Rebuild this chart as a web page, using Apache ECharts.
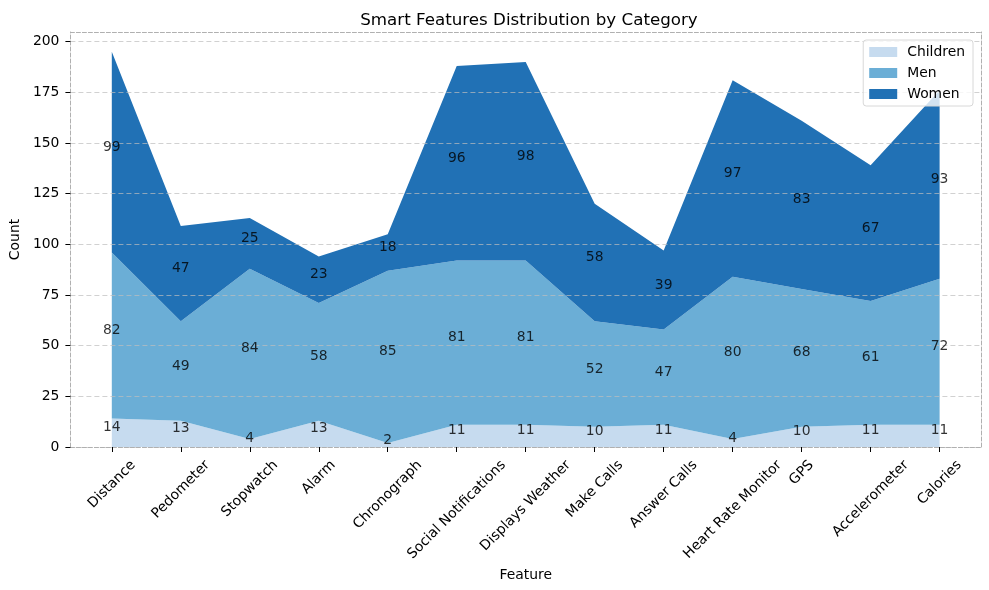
<!DOCTYPE html>
<html>
<head>
<meta charset="utf-8">
<script src="https://cdn.jsdelivr.net/npm/echarts@6/dist/echarts.min.js"></script>
<style>
html, body { margin: 0; padding: 0; background: #fff; }
#view { width: 989px; height: 590px; }
</style>
</head>
<body>
<div id="view"></div>
<script>
var features = ['Distance', 'Pedometer', 'Stopwatch', 'Alarm', 'Chronograph', 'Social Notifications',
    'Displays Weather', 'Make Calls', 'Answer Calls', 'Heart Rate Monitor', 'GPS', 'Accelerometer', 'Calories'];
var children = [14, 13, 4, 13, 2, 11, 11, 10, 11, 4, 10, 11, 11];
var men = [82, 49, 84, 58, 85, 81, 81, 52, 47, 80, 68, 61, 72];
var women = [99, 47, 25, 23, 18, 96, 98, 58, 39, 97, 83, 67, 93];
var yTicks = [0, 25, 50, 75, 100, 125, 150, 175, 200];
var groups = ['Children', 'Men', 'Women'];
var colors = ['#c6dbef', '#6baed6', '#2171b5'];

var FONT = '"DejaVu Sans", sans-serif';
var fs = 13.9;
var spine = {show: true, onZero: false, lineStyle: {color: '#b0b0b0', type: [4, 2], width: 1}};

// rotated tick labels centred under the tick (matplotlib style): pad each label by its own width
var ctx = document.createElement('canvas').getContext('2d');
ctx.font = fs + 'px "DejaVu Sans"';
var rich = {};
features.forEach(function (f, i) {
    var p = (ctx.measureText(f).width + fs) / 2;
    rich['l' + i] = {padding: [p, p, 0, 0], fontSize: fs, fontFamily: FONT, color: '#000'};
});

var values = [children, men, women];
var series = [];
var base = features.map(function () { return 0; });
values.forEach(function (vals, k) {
    series.push({
        name: groups[k],
        type: 'line',
        stack: 'total',
        symbol: 'none',
        lineStyle: {width: 0},
        itemStyle: {color: colors[k]},
        areaStyle: {color: colors[k], opacity: 1},
        z: 2,
        // value first so that the stack runs along y
        encode: {x: 1, y: 0},
        data: vals.map(function (v, i) { return [v, i]; })
    });
    // value labels in the middle of each band
    series.push({
        name: groups[k] + ' labels',
        type: 'scatter',
        symbolSize: 0,
        silent: true,
        z: 5,
        label: {
            show: true,
            position: 'inside',
            offset: [0, -5],
            color: '#000',
            fontSize: fs,
            fontFamily: FONT,
            formatter: function (p) { return p.value[2]; }
        },
        data: vals.map(function (v, i) { return [i, base[i] + v / 2, v]; })
    });
    vals.forEach(function (v, i) { base[i] += v; });
});

var myChart = echarts.init(document.getElementById('view'));
var option = {
    animation: false,
    backgroundColor: '#fff',
    textStyle: {fontFamily: FONT},
    title: {
        text: 'Smart Features Distribution by Category',
        left: 524,
        textAlign: 'center',
        top: 7,
        textStyle: {fontSize: 16.7, fontWeight: 'normal', color: '#000', fontFamily: FONT}
    },
    legend: {
        data: groups,
        orient: 'vertical',
        right: 16,
        top: 40,
        icon: 'rect',
        itemWidth: 28,
        itemHeight: 10,
        itemGap: 7,
        padding: [5, 8, 5, 6],
        backgroundColor: 'rgba(255,255,255,0.8)',
        borderColor: '#d8d8d8',
        borderWidth: 1,
        borderRadius: 3,
        textStyle: {fontSize: fs, color: '#000', fontFamily: FONT, padding: [0, 0, 0, 5]}
    },
    grid: {left: 67, right: 8, top: 32, bottom: 143, containLabel: false},
    xAxis: [{
        type: 'value',
        position: 'bottom',
        min: -0.6,
        max: 12.6,
        z: 3,
        axisLine: spine,
        axisTick: {show: true, length: 5, customValues: features.map(function (f, i) { return i; }),
            lineStyle: {color: '#000'}},
        axisLabel: {
            customValues: features.map(function (f, i) { return i; }),
            rotate: 45,
            align: 'center',
            verticalAlign: 'middle',
            margin: 11,
            rich: rich,
            formatter: function (v) {
                var i = Math.round(v);
                return '{l' + i + '|' + features[i] + '}';
            }
        },
        splitLine: {show: false},
        name: 'Feature',
        nameLocation: 'middle',
        nameGap: 118,
        nameTextStyle: {fontSize: fs, color: '#000', fontFamily: FONT}
    }, {
        type: 'value',
        position: 'top',
        min: -0.6,
        max: 12.6,
        z: 3,
        axisLine: spine,
        axisTick: {show: false},
        axisLabel: {show: false},
        splitLine: {show: false}
    }],
    yAxis: [{
        type: 'value',
        position: 'left',
        min: 0,
        max: 204.75,
        interval: 25,
        z: 3,
        axisLine: spine,
        axisTick: {show: true, length: 5, customValues: yTicks, lineStyle: {color: '#000'}},
        axisLabel: {customValues: yTicks, margin: 11, fontSize: fs, color: '#000', fontFamily: FONT},
        splitLine: {show: true, lineStyle: {color: 'rgba(190,190,190,0.7)', type: [5, 3], width: 1}},
        name: 'Count',
        nameLocation: 'middle',
        nameGap: 43,
        nameRotate: 90,
        nameTextStyle: {fontSize: fs, color: '#000', fontFamily: FONT}
    }, {
        type: 'value',
        position: 'right',
        min: 0,
        max: 204.75,
        z: 3,
        axisLine: spine,
        axisTick: {show: false},
        axisLabel: {show: false},
        splitLine: {show: false}
    }],
    series: series
};
myChart.setOption(option);
</script>
</body>
</html>
